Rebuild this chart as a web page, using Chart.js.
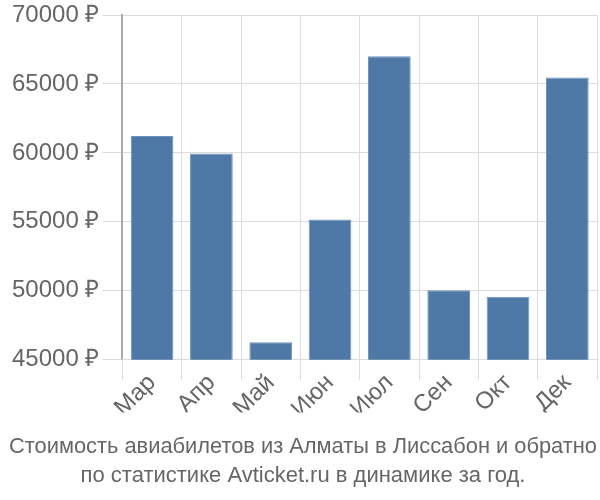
<!DOCTYPE html>
<html>
<head>
<meta charset="utf-8">
<script src="https://cdn.jsdelivr.net/npm/chart.js@4/dist/chart.umd.min.js"></script>
<style>
    html, body { margin: 0; padding: 0; background: #fff; }
    #wrap { width: 600px; height: 500px; position: relative; }
</style>
</head>
<body>
<div id="wrap"><canvas id="price-chart"></canvas></div>
<script>
// Chart data
const months = ['Мар', 'Апр', 'Май', 'Июн', 'Июл', 'Сен', 'Окт', 'Дек'];
const prices = [61230, 59950, 46280, 55170, 67000, 50050, 49570, 65460];
const titleLines = [
    'Стоимость авиабилетов из Алматы в Лиссабон и обратно',
    'по статистике Avticket.ru в динамике за год.'
];

const textColor = '#666';
const fontFamily = '"Liberation Sans", Arial, sans-serif';

const ctx = document.getElementById('price-chart').getContext('2d');

new Chart(ctx, {
    type: 'bar',
    data: {
        labels: months,
        datasets: [{
            data: prices,
            backgroundColor: '#4e79a7',
            borderColor: '#6f93bd',
            borderWidth: 1
        }]
    },
    options: {
        responsive: true,
        maintainAspectRatio: false,
        animation: false,
        layout: {
            padding: { top: 2, right: 3, left: 9, bottom: 0 }
        },
        scales: {
            y: {
                min: 45000,
                max: 70000,
                ticks: {
                    stepSize: 5000,
                    color: textColor,
                    padding: 3,
                    font: { family: fontFamily, size: 24, lineHeight: 1 },
                    callback: function(value) {
                        return value + ' ₽';
                    }
                },
                grid: {
                    color: '#dddddd',
                    tickLength: 20
                },
                border: {
                    color: '#aaaaaa',
                    width: 2
                }
            },
            x: {
                ticks: {
                    color: textColor,
                    maxRotation: 45,
                    minRotation: 45,
                    padding: -11,
                    font: { family: fontFamily, size: 24 }
                },
                grid: {
                    color: '#dddddd',
                    offset: true,
                    tickLength: 20
                },
                border: {
                    color: '#dddddd'
                }
            }
        },
        plugins: {
            legend: { display: false },
            tooltip: { enabled: false },
            title: {
                display: true,
                position: 'bottom',
                text: titleLines,
                color: textColor,
                font: { family: fontFamily, size: 22, weight: 'normal', lineHeight: 1.35 },
                padding: { top: 19, bottom: 9 }
            }
        }
    }
});
</script>
</body>
</html>
